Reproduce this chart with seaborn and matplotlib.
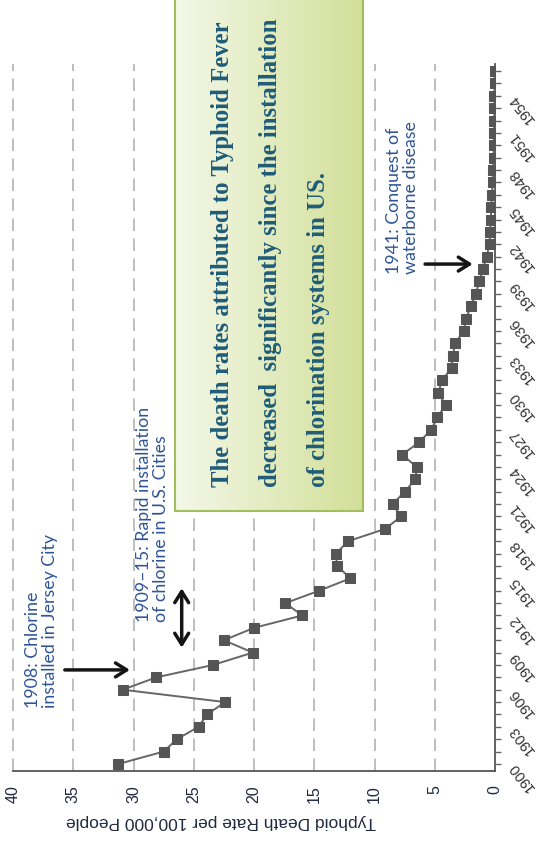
import numpy as np
import pandas as pd
import matplotlib
matplotlib.use("Agg")
import matplotlib.pyplot as plt
import seaborn as sns
from matplotlib.ticker import FixedLocator
from matplotlib.colors import LinearSegmentedColormap

# Typhoid death rate in the US, per 100,000 people
years = list(range(1900, 1957))
rates = [31.25, 27.5, 26.4, 24.6, 23.9, 22.4, 30.9, 28.1, 23.4, 20.1,
         22.5, 20.0, 16.0, 17.4, 14.6, 12.0, 13.1, 13.2, 12.2, 9.1,
         7.8, 8.5, 7.5, 6.6, 6.5, 7.7, 6.3, 5.3, 4.8, 4.1,
         4.7, 4.4, 3.6, 3.5, 3.3, 2.6, 2.4, 2.0, 1.6, 1.3,
         1.0, 0.7, 0.45, 0.4, 0.35, 0.3, 0.25, 0.2, 0.15, 0.12,
         0.1, 0.08, 0.06, 0.05, 0.05, 0.04, 0.04]

rate_ticks = [0, 5, 10, 15, 20, 25, 30, 35, 40]
year_ticks = list(range(1900, 1955, 3))
axis_title = "Typhoid Death Rate per 100,000 People"
note_1908 = "1908: Chlorine\ninstalled in Jersey City"
note_1909 = "1909\u201315: Rapid installation\nof chlorine in U.S. Cities"
note_1941 = "1941: Conquest of\nwaterborne disease"
box_lines = ["The death rates attributed to Typhoid Fever",
             "decreased  significantly since the installation",
             "of chlorination systems in US."]

df = pd.DataFrame({"year": years, "rate": rates})

sns.set_style("white")
plt.rcParams["font.family"] = ["Liberation Sans", "DejaVu Sans"]

W, H = 544, 843
fig = plt.figure(figsize=(W / 100, H / 100), dpi=100)
ax = fig.add_axes([13 / W, 72 / H, 482 / W, 707 / H])

sns.lineplot(data=df, x="rate", y="year", orient="y", ax=ax,
             color="#666666", lw=1.4, marker="s", markersize=6.6,
             markerfacecolor="#555555", markeredgecolor="#555555",
             zorder=3)

ax.set_xlim(40, 0)
ax.set_ylim(1899.43, 1956.57)

for v in rate_ticks[1:]:
    ax.axvline(v, color="#b3b3b3", lw=1.2, dashes=(7.5, 4.5), zorder=1,
               clip_on=False)

for side in ("top", "left"):
    ax.spines[side].set_visible(False)
for side in ("bottom", "right"):
    ax.spines[side].set_color("#555555")
    ax.spines[side].set_linewidth(1.3)

# value axis (drawn along the bottom)
ax.set_xticks(rate_ticks)
ax.set_xticklabels([str(t) for t in rate_ticks])
ax.tick_params(axis="x", length=0, pad=10, labelsize=11.5,
               labelcolor="#1f2940")
for lbl in ax.get_xticklabels():
    lbl.set_rotation(90)
    lbl.set_va("top")
    lbl.set_ha("center")

ax.set_xlabel(axis_title, rotation=180, fontsize=12.5, color="#1f2940",
              va="center", ha="center")
ax.xaxis.set_label_coords((221 - 13) / 482, -(822 - 771) / 707)
ax.set_ylabel("")

# year axis (drawn on the right)
ax.yaxis.tick_right()
ax.yaxis.set_major_locator(FixedLocator(year_ticks))
ax.yaxis.set_minor_locator(FixedLocator(years))
ax.set_yticklabels([str(y) for y in year_ticks])
ax.tick_params(axis="y", which="both", direction="out", length=4,
               width=1, color="#666666", pad=8, labelsize=10.5,
               labelcolor="#333333")
for lbl in ax.get_yticklabels():
    lbl.set_rotation(128)
    lbl.set_rotation_mode("anchor")
    lbl.set_ha("right")
    lbl.set_va("center")

# annotations
note_kw = dict(rotation=90, rotation_mode="anchor", ha="left", va="center",
               fontsize=12.8, family="Lato", color="#2f5597", linespacing=1.08,
               zorder=4)
ax.text(37.6, 1904.5, note_1908, **note_kw)
ax.text(28.4, 1911.45, note_1909, **note_kw)
ax.text(7.7, 1939.6, note_1941, **note_kw)

arrow_kw = dict(lw=2.5, color="#151515", shrinkA=0, shrinkB=0)
ax.annotate("", xy=(30.3, 1907.6), xytext=(35.7, 1907.6),
            arrowprops=dict(arrowstyle="->,head_length=0.8,head_width=0.5",
                            **arrow_kw), zorder=4)
ax.annotate("", xy=(26.0, 1909.4), xytext=(26.0, 1914.2),
            arrowprops=dict(arrowstyle="<->,head_length=0.8,head_width=0.5",
                            **arrow_kw), zorder=4)
ax.annotate("", xy=(1.85, 1940.4), xytext=(5.8, 1940.4),
            arrowprops=dict(arrowstyle="->,head_length=0.8,head_width=0.5",
                            **arrow_kw), zorder=4)

# highlighted summary box
box = fig.add_axes([175 / W, (H - 511) / H, 188 / W, 516 / H])
grad = np.linspace(0, 1, 256)[None, :]
cmap = LinearSegmentedColormap.from_list("box", ["#f4f8e9", "#d2df98"])
box.imshow(grad, aspect="auto", cmap=cmap, extent=[0, 1, 0, 1])
box.set_xticks([])
box.set_yticks([])
for s in box.spines.values():
    s.set_color("#a3bd5a")
    s.set_linewidth(1.5)

for xpx, line in zip([223, 270, 318], box_lines):
    fig.text(xpx / W, (H - 487) / H, line, rotation=90,
             rotation_mode="anchor", ha="left", va="center",
             fontsize=17.8, family="Liberation Serif", weight="bold",
             color="#1f5c78", zorder=5)

fig.savefig("out.png", dpi=100)
